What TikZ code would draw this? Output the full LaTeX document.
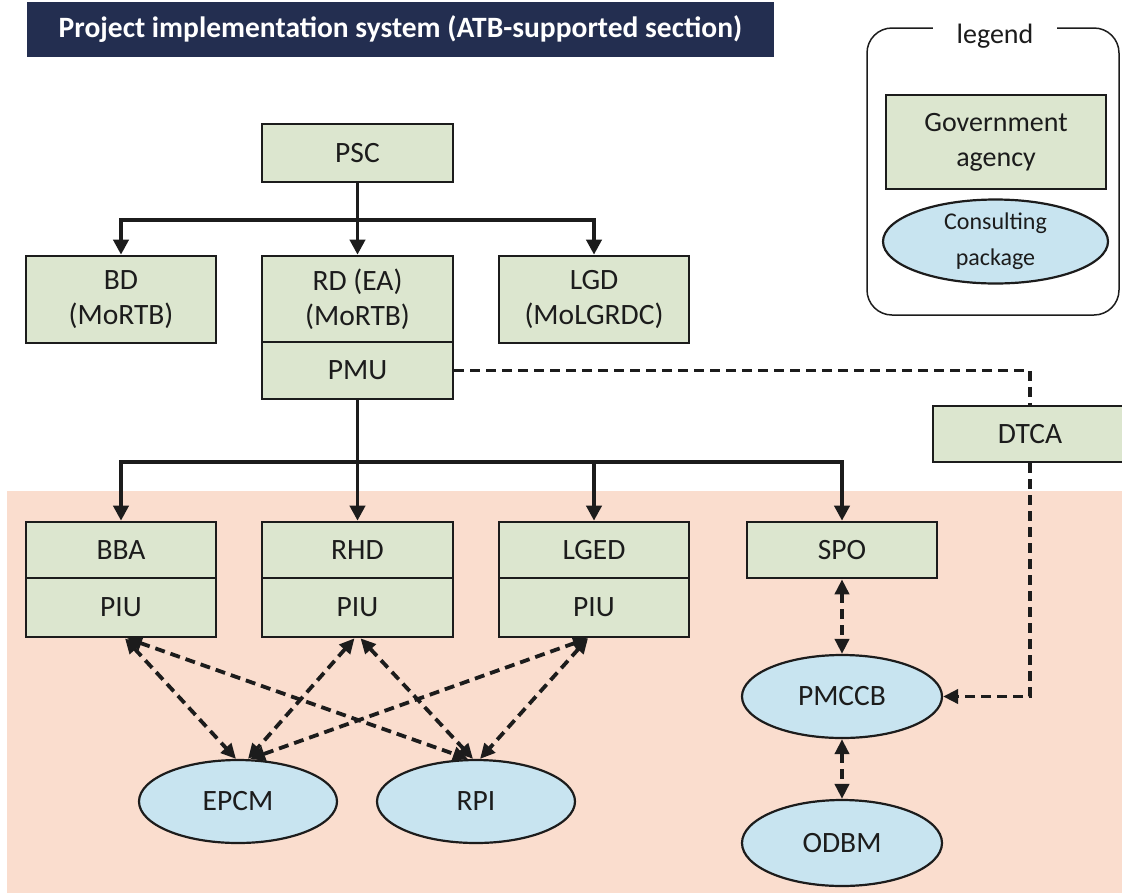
\documentclass[tikz,border=0pt]{standalone}
\usepackage{fontspec}
\setmainfont{Carlito}
\usetikzlibrary{shapes.geometric,arrows.meta}

\definecolor{titlebar}{RGB}{35,46,80}
\definecolor{agencygreen}{RGB}{220,230,207}
\definecolor{consultblue}{RGB}{200,228,240}
\definecolor{zonepink}{RGB}{250,221,206}
\definecolor{inkgray}{RGB}{28,28,28}

\newcommand\lblfont{\fontsize{29.5}{35}\selectfont}
\newcommand\legfont{\fontsize{28}{35}\selectfont}
\newcommand\legsmall{\fontsize{24}{36}\selectfont}

\tikzset{
  agency/.style={draw=inkgray, line width=2.6pt, fill=agencygreen, inner sep=0pt,
    align=center, text=inkgray, font=\lblfont},
  consult/.style={ellipse, draw=inkgray, line width=2.2pt, fill=consultblue,
    inner sep=0pt, align=center, text=inkgray, font=\lblfont},
  tree/.style={draw=inkgray, line width=3.8pt, -{Triangle[length=15pt,width=15pt]}},
  dashlink/.style={draw=inkgray, line width=3.8pt, dash pattern=on 10pt off 6pt},
  biarrow/.style={dashlink, {Triangle[length=15pt,width=14pt]}-{Triangle[length=15pt,width=14pt]}}
}

\begin{document}
\begin{tikzpicture}[x=1pt,y=-1pt]
\useasboundingbox (0,0) rectangle (1122,895);
\clip (0,0) rectangle (1122,895);

% shaded zone of the implementing agencies
\fill[zonepink] (7,491) rectangle (1122,893);

% title bar
\node[fill=titlebar, minimum width=747pt, minimum height=55pt, inner sep=0pt,
      text=white, font=\fontsize{29.5}{32}\selectfont\bfseries] (title) at (400.5,29.5)
  {Project implementation system (ATB-supported section)};

% legend
\draw[draw=inkgray, line width=1.5pt, rounded corners=25pt] (867,28) rectangle (1119,315);
\node[fill=white, inner xsep=24pt, inner ysep=2pt, text=inkgray, font=\legfont] (legendtitle) at (995,36) {legend};
\node[agency, minimum width=220pt, minimum height=94pt, font=\legfont] (legagency) at (996,142) {Government\\agency};
\node[consult, minimum width=225pt, minimum height=84pt, font=\legsmall] (legconsult) at (995.5,241.5) {Consulting\\package};

% upper level
\node[agency, minimum width=191pt, minimum height=58pt] (psc) at (357.5,153) {PSC};
\node[agency, minimum width=190pt, minimum height=87pt] (bd) at (121,299.5) {BD\\(MoRTB)};
\node[agency, minimum width=191pt, minimum height=86pt] (rd) at (357.5,299) {RD (EA)\\(MoRTB)};
\node[agency, minimum width=191pt, minimum height=57pt] (pmu) at (357.5,370.5) {PMU};
\node[agency, minimum width=190pt, minimum height=87pt] (lgd) at (594,299.5) {LGD\\(MoLGRDC)};
\node[agency, minimum width=194pt, minimum height=56pt] (dtca) at (1030,434) {DTCA};

% implementing agencies
\node[agency, minimum width=190pt, minimum height=56pt] (bba) at (121,550) {BBA};
\node[agency, minimum width=190pt, minimum height=59pt] (bbapiu) at (121,607.5) {PIU};
\node[agency, minimum width=191pt, minimum height=56pt] (rhd) at (357.5,550) {RHD};
\node[agency, minimum width=191pt, minimum height=59pt] (rhdpiu) at (357.5,607.5) {PIU};
\node[agency, minimum width=190pt, minimum height=56pt] (lged) at (594,550) {LGED};
\node[agency, minimum width=190pt, minimum height=59pt] (lgedpiu) at (594,607.5) {PIU};
\node[agency, minimum width=190pt, minimum height=56pt] (spo) at (842,550) {SPO};

% consulting packages
\node[consult, minimum width=198pt, minimum height=83pt] (epcm) at (238,801.5) {EPCM};
\node[consult, minimum width=198pt, minimum height=83pt] (rpi) at (476,801.5) {RPI};
\node[consult, minimum width=200pt, minimum height=83pt] (pmccb) at (842,696.5) {PMCCB};
\node[consult, minimum width=200pt, minimum height=86pt] (odbm) at (842,843) {ODBM};

% reporting lines
\coordinate (split1) at (357.5,220);
\coordinate (split2) at (357.5,462);
\draw[tree] (psc.south) -- (rd.north);
\draw[tree] (split1) -| (bd.north);
\draw[tree] (split1) -| (lgd.north);
\draw[tree] (pmu.south) -- (rhd.north);
\draw[tree] (split2) -| (bba.north);
\draw[tree] (split2) -| (lged.north);
\draw[tree] (split2) -| (spo.north);

% technical cooperation
\draw[dashlink] (pmu.east) -| (dtca.north);
\draw[dashlink, -{Triangle[length=15pt,width=14pt]}] (dtca.south) |- (pmccb.east);

% consultant coordination
\draw[biarrow] ([xshift=4pt]bbapiu.south) -- ([xshift=-2pt]epcm.north);
\draw[biarrow] ([xshift=6pt]bbapiu.south) -- ([xshift=-8pt]rpi.north);
\draw[biarrow] ([xshift=-3pt]rhdpiu.south) -- ([xshift=10pt]epcm.north);
\draw[biarrow] ([xshift=3pt]rhdpiu.south) -- ([xshift=-3pt]rpi.north);
\draw[biarrow] ([xshift=-6pt]lgedpiu.south) -- ([xshift=12pt]epcm.north);
\draw[biarrow] ([xshift=-6pt]lgedpiu.south) -- ([xshift=4pt]rpi.north);
\draw[biarrow] (spo.south) -- (pmccb.north);
\draw[biarrow] (pmccb.south) -- (odbm.north);
\end{tikzpicture}
\end{document}
